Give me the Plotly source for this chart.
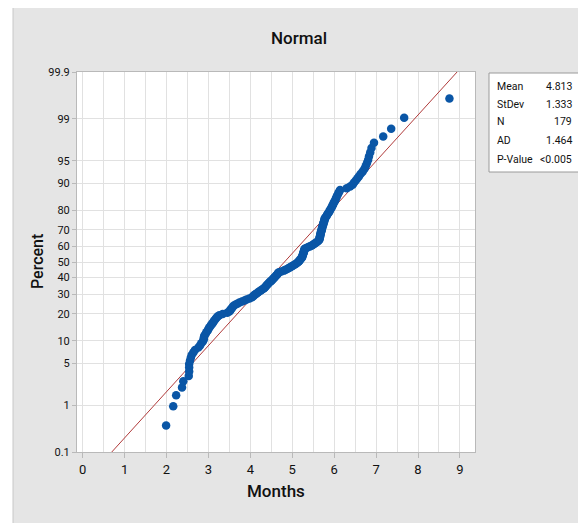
import plotly.graph_objects as go
from statistics import NormalDist

months = [
    1.99, 2.16, 2.23, 2.37, 2.40, 2.53, 2.54, 2.54, 2.54, 2.56,
    2.58, 2.60, 2.64, 2.68, 2.76, 2.80, 2.83, 2.87, 2.89, 2.89,
    2.90, 2.93, 2.95, 2.98, 3.00, 3.02, 3.05, 3.07, 3.10, 3.12,
    3.14, 3.17, 3.19, 3.22, 3.26, 3.34, 3.45, 3.50, 3.52, 3.54,
    3.56, 3.58, 3.60, 3.64, 3.69, 3.74, 3.80, 3.86, 3.91, 3.98,
    4.04, 4.07, 4.09, 4.12, 4.15, 4.18, 4.21, 4.25, 4.28, 4.32,
    4.34, 4.36, 4.38, 4.40, 4.42, 4.44, 4.46, 4.49, 4.51, 4.53,
    4.55, 4.57, 4.59, 4.61, 4.63, 4.65, 4.66, 4.68, 4.74, 4.80,
    4.84, 4.88, 4.92, 4.95, 4.99, 5.02, 5.06, 5.09, 5.12, 5.14,
    5.16, 5.18, 5.19, 5.21, 5.23, 5.24, 5.24, 5.25, 5.26, 5.26,
    5.27, 5.28, 5.28, 5.29, 5.29, 5.32, 5.37, 5.42, 5.47, 5.50,
    5.53, 5.56, 5.59, 5.62, 5.64, 5.65, 5.65, 5.66, 5.66, 5.67,
    5.67, 5.68, 5.68, 5.69, 5.70, 5.70, 5.71, 5.71, 5.72, 5.73,
    5.74, 5.74, 5.75, 5.76, 5.77, 5.77, 5.78, 5.80, 5.82, 5.83,
    5.85, 5.87, 5.89, 5.90, 5.92, 5.94, 5.95, 5.97, 5.98, 6.00,
    6.02, 6.03, 6.05, 6.06, 6.08, 6.10, 6.12, 6.14, 6.30, 6.38,
    6.44, 6.47, 6.51, 6.55, 6.59, 6.63, 6.68, 6.72, 6.75, 6.78,
    6.81, 6.83, 6.86, 6.89, 6.95, 7.17, 7.36, 7.67, 8.75,
]

MEAN = 4.813
STDEV = 1.333
stat_labels = ["Mean", "StDev", "N", "AD", "P-Value"]
stat_values = ["4.813", "1.333", "179", "1.464", "<0.005"]

pct_ticks = [0.1, 1, 5, 10, 20, 30, 40, 50, 60, 70, 80, 90, 95, 99, 99.9]
pct_text = ["0.1", "1", "5", "10", "20", "30", "40", "50", "60", "70",
            "80", "90", "95", "99", "99.9"]
x_ticks = [0, 1, 2, 3, 4, 5, 6, 7, 8, 9]

# ---- probability scale ----
nd = NormalDist()
xs = sorted(months)
n = len(xs)
z_pts = [nd.inv_cdf((i + 1 - 0.3) / (n + 0.4)) for i in range(n)]
z_ticks = [nd.inv_cdf(p / 100.0) for p in pct_ticks]
z_lo, z_hi = z_ticks[0], z_ticks[-1]
pct_pts = [100 * (i + 1 - 0.3) / (n + 0.4) for i in range(n)]

# fitted line from mean / stdev
fit_z = [z_lo, z_hi]
fit_x = [MEAN + STDEV * z for z in fit_z]

# page body has an 8px margin -> figure drawn from (8, 8) of the window
OFF = 8
W, H = 586 - OFF, 523 - OFF
L, R, T, B = 77 - OFF, 111, 72 - OFF, 71
PW, PH = W - L - R, H - T - B


def px(xr):
    """reference-window x pixel -> paper coordinate"""
    return (xr - OFF - L) / PW


def py(yr):
    """reference-window y pixel -> paper coordinate"""
    return (H - B - (yr - OFF)) / PH


FONT = "Roboto, Arial, sans-serif"
BLUE = "#0a56a6"
RED = "#b03a3a"
GRID = "#e1e1e1"
FRAME = "#b9b9b9"
PANEL = "#e5e5e5"

fig = go.Figure()
fig.add_trace(go.Scatter(
    x=fit_x, y=fit_z, mode="lines",
    line=dict(color=RED, width=1), hoverinfo="skip", showlegend=False))
fig.add_trace(go.Scatter(
    x=xs, y=z_pts, mode="markers",
    marker=dict(color=BLUE, size=8.5, line=dict(width=0)),
    customdata=pct_pts,
    hovertemplate="Months %{x}<br>Percent %{customdata:.1f}<extra></extra>",
    showlegend=False))

shapes = [
    # white strip left of the grey panel
    dict(type="rect", xref="paper", yref="paper", x0=px(OFF), x1=px(13),
         y0=py(523), y1=py(OFF), fillcolor="white", line=dict(width=0), layer="below"),
    dict(type="line", xref="paper", yref="paper", x0=px(13), x1=px(13),
         y0=py(523), y1=py(OFF), line=dict(color="#c8c8c8", width=1)),
    # stats box
    dict(type="rect", xref="paper", yref="paper", x0=px(489), x1=px(580),
         y0=py(172), y1=py(73), fillcolor="white",
         line=dict(color="#9a9a9a", width=1)),
]

annotations = []
row_y = [86, 104, 122, 140, 159]
for lab, val, yy in zip(stat_labels, stat_values, row_y):
    annotations.append(dict(text=lab, xref="paper", yref="paper", x=px(495),
                            y=py(yy), xanchor="left", yanchor="middle",
                            showarrow=False, font=dict(family=FONT, size=10.5, color="#111")))
    annotations.append(dict(text=val, xref="paper", yref="paper", x=px(574),
                            y=py(yy), xanchor="right", yanchor="middle",
                            showarrow=False, font=dict(family=FONT, size=10.5, color="#111")))
annotations.append(dict(text="Percent", xref="paper", yref="paper", x=px(37),
                        y=0.5, xanchor="center", yanchor="middle", textangle=-90,
                        showarrow=False,
                        font=dict(family=FONT, size=16, color="#111", weight=500)))
annotations.append(dict(text="Months", xref="paper", yref="paper", x=0.5,
                        y=py(491), xanchor="center", yanchor="middle",
                        showarrow=False,
                        font=dict(family=FONT, size=17, color="#111", weight=500)))

fig.update_layout(
    width=W, height=H,
    margin=dict(l=L, r=R, t=T, b=B, pad=0),
    paper_bgcolor=PANEL, plot_bgcolor="white",
    title=dict(text="Normal", x=(299 - OFF) / W, xref="container", xanchor="center",
               y=1 - (38 - OFF) / H, yref="container", yanchor="middle",
               font=dict(family=FONT, size=17, color="#111", weight=500)),
    shapes=shapes, annotations=annotations,
    font=dict(family=FONT, color="#111"),
)
fig.update_xaxes(
    range=[-0.136, 9.36], tickvals=x_ticks, ticktext=[str(v) for v in x_ticks],
    showgrid=True, gridcolor=GRID, gridwidth=1,
    minor=dict(dtick=0.5, tick0=0, showgrid=True, gridcolor=GRID, gridwidth=1),
    ticks="outside", ticklen=5, tickcolor=FRAME,
    showline=True, linecolor=FRAME, linewidth=1, mirror=True,
    zeroline=False, tickfont=dict(family=FONT, size=13, color="#111"),
)
fig.update_yaxes(
    range=[z_lo, z_hi], tickvals=z_ticks, ticktext=pct_text,
    showgrid=True, gridcolor=GRID, gridwidth=1,
    ticks="outside", ticklen=4, tickcolor=FRAME,
    showline=True, linecolor=FRAME, linewidth=1, mirror=True,
    zeroline=False, tickfont=dict(family=FONT, size=11, color="#111"),
)

fig.write_html("out.html")
